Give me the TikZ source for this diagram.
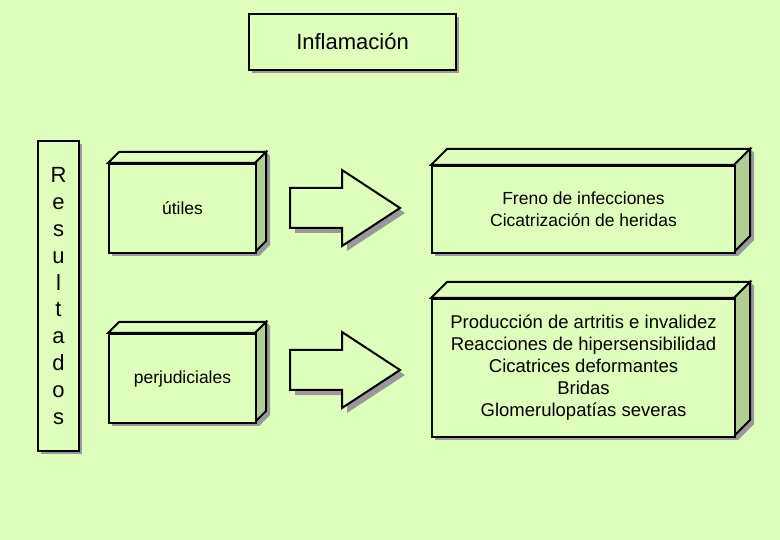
\documentclass[tikz,border=0pt]{standalone}
\usepackage{fontspec}
\setmainfont{Liberation Sans}
\definecolor{fondo}{HTML}{DDFFBB}
\definecolor{lado}{HTML}{B2CC94}
\definecolor{sombra}{HTML}{999999}
\tikzset{
  caja/.style={draw=black, line width=2pt, fill=fondo},
  ladocaja/.style={draw=black, line width=2pt, fill=lado},
  texto/.style={font=\fontsize{17.5}{22}\selectfont, align=center}
}
% caja en 3D: x1,y1,x2,y2,profundidad,nombre
\newcommand{\cajatres}[6]{%
  \fill[sombra] (#1+4,#2+4) rectangle (#3+4,#4+4);
  \fill[sombra] (#3,#2) -- (#3+#5,#2-#5) -- (#3+#5+4,#2-#5+4) -- (#3+#5+4,#4-#5+4) -- (#3+4,#4+4) -- cycle;
  \draw[caja] (#1,#2) -- (#1+#5,#2-#5) -- (#3+#5,#2-#5) -- (#3,#2) -- cycle;
  \draw[ladocaja] (#3,#2) -- (#3+#5,#2-#5) -- (#3+#5,#4-#5) -- (#3,#4) -- cycle;
  \node[caja, minimum width=#3-#1, minimum height=#4-#2, anchor=north west, inner sep=0pt] (#6) at (#1,#2) {};
}
% flecha: x, y del centro
\newcommand{\flecha}[2]{%
  \fill[sombra, shift={(5,5)}] (#1,#2-20) -- (#1+52,#2-20) -- (#1+52,#2-38) -- (#1+110,#2) -- (#1+52,#2+38) -- (#1+52,#2+20) -- (#1,#2+20) -- cycle;
  \draw[caja] (#1,#2-20) -- (#1+52,#2-20) -- (#1+52,#2-38) -- (#1+110,#2) -- (#1+52,#2+38) -- (#1+52,#2+20) -- (#1,#2+20) -- cycle;
}
\begin{document}
\begin{tikzpicture}[x=1pt, y=-1pt]
  \fill[fondo] (0,0) rectangle (780,540);
  \useasboundingbox (0,0) rectangle (780,540);

  % titulo
  \fill[sombra] (252,17) rectangle (459,73);
  \node[caja, minimum width=207, minimum height=56, anchor=north west, inner sep=0pt] (inflamacion) at (248,13) {};
  \node[texto, font=\fontsize{22}{24}\selectfont] (titulo) at (inflamacion.center) {Inflamación};

  % resultados
  \fill[sombra] (41,144) rectangle (82,454);
  \node[caja, minimum width=41, minimum height=310, anchor=north west, inner sep=0pt] (resultados) at (37,140) {};
  \node[font=\fontsize{22}{26.8}\selectfont, align=center] (letras) at (resultados.center) {R\\e\\s\\u\\l\\t\\a\\d\\o\\s};

  % cajas
  \cajatres{108}{163}{255}{252}{11}{utiles}
  \node[texto] (tutiles) at (utiles.center) {útiles};
  \cajatres{108}{333}{255}{422}{11}{perjudiciales}
  \node[texto] (tperjudiciales) at (perjudiciales.center) {perjudiciales};

  \cajatres{431}{165}{734}{252}{16}{freno}
  \node[texto] (tfreno) at (freno.center) {Freno de infecciones\\Cicatrización de heridas};
  \cajatres{431}{298}{734}{436}{16}{produccion}
  \node[texto, font=\fontsize{18.5}{22}\selectfont] (tproduccion) at (produccion.center) {Producción de artritis e invalidez\\Reacciones de hipersensibilidad\\Cicatrices deformantes\\Bridas\\Glomerulopatías severas};

  % flechas
  \flecha{290}{208}
  \flecha{290}{370}
\end{tikzpicture}
\end{document}
